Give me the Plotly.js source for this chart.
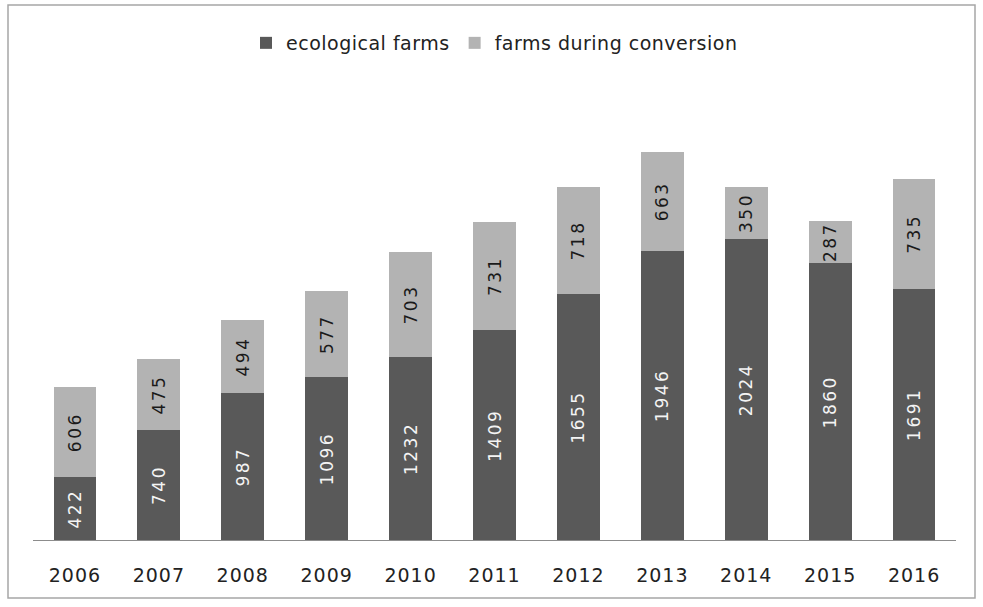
<!DOCTYPE html>
<html>
<head>
<meta charset="utf-8">
<script src="https://cdn.plot.ly/plotly-3.0.1.min.js"></script>
<style>
html,body{margin:0;padding:0;background:#fff;}
#chart{width:983px;height:607px;}
text.bartext{letter-spacing:2.5px;}
.xtick text{letter-spacing:1px;}
text.legendtext{letter-spacing:0.5px;}
</style>
</head>
<body>
<div id="chart"></div>
<script>
const years = ['2006','2007','2008','2009','2010','2011','2012','2013','2014','2015','2016'];
const ecological = [422,740,987,1096,1232,1409,1655,1946,2024,1860,1691];
const conversion = [606,475,494,577,703,731,718,663,350,287,735];

const FONT = '"DejaVu Sans", "Open Sans", sans-serif';
const L = 33, R = 956, T = 80, B = 540, W = 983, H = 607;
const px = x => (x - L) / (R - L);
const py = y => (B - y) / (B - T);

const traces = [
  {type:'bar', name:'ecological farms', x:years, y:ecological,
   marker:{color:'#595959'}, text:ecological.map(String), textposition:'inside',
   insidetextanchor:'middle', textangle:-90, constraintext:'none',
   textfont:{family:FONT, size:17, color:'#f4f4f4'}, hoverinfo:'x+y'},
  {type:'bar', name:'farms during conversion', x:years, y:conversion,
   marker:{color:'#b3b3b3'}, text:conversion.map(String), textposition:'inside',
   insidetextanchor:'middle', textangle:-90, constraintext:'none',
   textfont:{family:FONT, size:17, color:'#1a1a1a'}, hoverinfo:'x+y'}
];

const layout = {
  width:W, height:H, barmode:'stack', bargap:0.49,
  margin:{l:L, r:W-R, t:T, b:H-B},
  paper_bgcolor:'#ffffff', plot_bgcolor:'#ffffff',
  font:{family:FONT, size:19, color:'#222'},
  showlegend:true,
  legend:{orientation:'h', x:0.5, xanchor:'center', y:py(43), yanchor:'middle',
          font:{family:FONT, size:19, color:'#222'}, itemwidth:30, traceorder:'normal'},
  xaxis:{type:'category', showline:true, linecolor:'#8c8c8c', linewidth:1,
         ticks:'', showgrid:false, zeroline:false, ticklabelstandoff:18,
         tickfont:{family:FONT, size:19, color:'#222'}},
  yaxis:{range:[0,(B-T)/0.1487], visible:false, showgrid:false, zeroline:false},
  uniformtext:{mode:false},
  shapes:[
    {type:'rect', xref:'paper', yref:'paper', x0:px(8), x1:px(975), y0:py(598), y1:py(5),
     line:{color:'#a6a6a6', width:1.5}, fillcolor:'rgba(0,0,0,0)', layer:'below'}
  ]
};

Plotly.newPlot('chart', traces, layout, {displayModeBar:false, staticPlot:true});
</script>
</body>
</html>
